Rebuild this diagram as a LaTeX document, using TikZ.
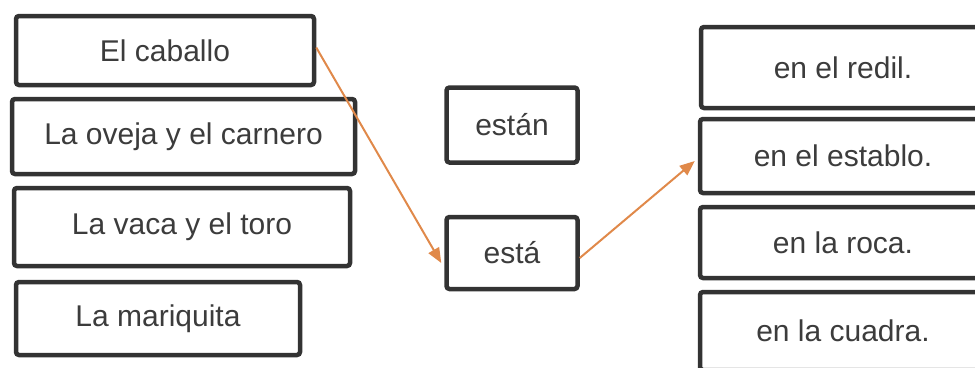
\documentclass[tikz,border=0pt]{standalone}
\usepackage{fontspec}
\setmainfont{Liberation Sans}
\usetikzlibrary{arrows.meta}
\definecolor{boxline}{HTML}{333333}
\definecolor{txt}{HTML}{3C3C3C}
\definecolor{arrowc}{HTML}{E0894A}
\tikzset{
  card/.style={draw=boxline, line width=4.5pt, rounded corners=3pt, fill=white,
    inner sep=0pt, text=txt, font=\fontsize{30}{36}\selectfont},
  link/.style={draw=arrowc, line width=2pt, -{Triangle[length=15pt,width=12pt]}, shorten >=0pt}
}
\begin{document}
\begin{tikzpicture}[x=1pt,y=-1pt]
\useasboundingbox (0,0) rectangle (975,367);
\clip (0,0) rectangle (975,367);
\node[card, minimum width=298pt, minimum height=69pt] (caballo) at (165,50.5) {El caballo};
\node[card, minimum width=343pt, minimum height=75pt] (oveja) at (183.5,136.5) {La oveja y el carnero};
\node[card, minimum width=336pt, minimum height=78pt] (vaca) at (182,227) {La vaca y el toro};
\node[card, minimum width=284pt, minimum height=73pt] (mariquita) at (158,318.5) {La mariquita};
\node[card, minimum width=131pt, minimum height=75pt] (estan) at (512,125) {están};
\node[card, minimum width=131pt, minimum height=72pt] (esta) at (512,253) {está};
\node[card, minimum width=284pt, minimum height=81pt] (redil) at (843,67.5) {en el redil.};
\node[card, minimum width=286pt, minimum height=74pt] (establo) at (843,156) {en el establo.};
\node[card, minimum width=286pt, minimum height=71pt] (roca) at (843,242.5) {en la roca.};
\node[card, minimum width=286pt, minimum height=78pt] (cuadra) at (843,331) {en la cuadra.};
\draw[link] ([yshift=3pt]caballo.east) -- ([xshift=-3pt,yshift=-10pt]esta.west);
\draw[link] ([yshift=-5pt]esta.east) -- ([xshift=-3pt,yshift=-5pt]establo.west);
\end{tikzpicture}
\end{document}
